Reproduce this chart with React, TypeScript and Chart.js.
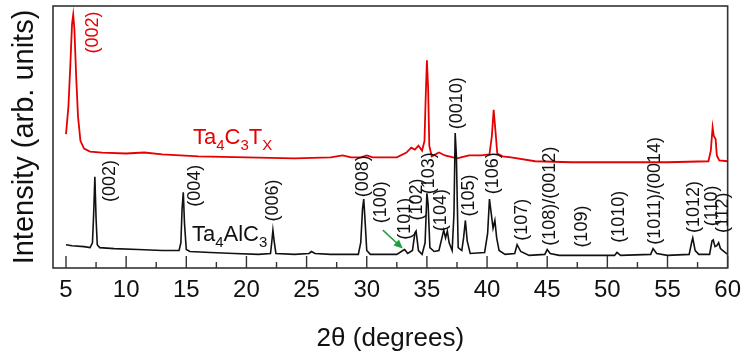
import React, { useEffect, useRef } from 'react';
import { Chart, registerables } from 'chart.js';

Chart.register(...registerables);

// ---- axis ticks ----
const xTickValues = [5, 10, 15, 20, 25, 30, 35, 40, 45, 50, 55, 60];
const xMinorTickValues = [7.5, 12.5, 17.5, 22.5, 27.5, 32.5, 37.5, 42.5, 47.5, 52.5, 57.5];

// ---- Ta4AlC3 (black) ----
const alcTheta = [
  5.0, 5.5, 6.5, 7.0, 7.2, 7.3, 7.4, 7.5, 7.6, 7.8, 9, 11, 13, 14.4, 14.55, 14.65, 14.75, 14.85, 15.0, 15.3,
  17, 19, 21, 22.0, 22.1, 22.2, 22.3, 22.45, 24, 25.2, 25.4, 25.7, 27, 29.3, 29.5, 29.65, 29.75, 29.85, 30.0, 30.3,
  32.5, 33.0, 33.15, 33.4, 33.8, 34.0, 34.1, 34.3, 34.6, 34.85, 35.0, 35.1, 35.25, 35.6, 36.0, 36.25, 36.4, 36.55, 36.7, 36.85,
  37.1, 37.25, 37.35, 37.45, 37.6, 37.9, 38.05, 38.2, 38.35, 38.6, 39.8, 40.05, 40.2, 40.35, 40.5, 40.65, 40.8, 41.0, 41.5, 42.3,
  42.5, 42.8, 43.5, 44.8, 45.0, 45.25, 46, 48, 50.6, 50.8, 51.1, 53.6, 53.8, 54.1, 55, 56.8, 57.0, 57.1, 57.3, 57.6,
  58.5, 58.7, 58.8, 58.95, 59.1, 59.25, 59.4, 59.6, 60,
];
const alcIntensity = [
  24, 23, 22, 21, 26, 56, 94, 51, 24, 21, 20, 19, 18, 18, 26, 61, 78, 46, 19, 17,
  16, 15, 14, 15, 26, 39, 28, 15, 14, 15, 17, 15, 14, 14, 26, 61, 71, 51, 18, 14,
  14, 18, 19, 15, 18, 36, 38, 18, 14, 26, 77, 66, 21, 17, 18, 31, 39, 31, 38, 26,
  18, 56, 139, 116, 21, 18, 31, 49, 28, 15, 16, 36, 71, 56, 41, 49, 31, 18, 14, 15,
  24, 17, 13, 14, 19, 15, 13, 13, 13, 16, 13, 14, 20, 15, 13, 14, 26, 31, 18, 14,
  14, 28, 29, 22, 23, 26, 20, 18, 14,
];

// ---- Ta4C3Tx (red) ----
const mxTheta = [
  5.0, 5.2, 5.35, 5.5, 5.6, 5.7, 5.85, 6.0, 6.2, 6.5, 7.0, 8, 10, 11.5, 13, 16, 20, 24, 27, 28,
  28.7, 29.5, 30.0, 30.5, 32.5, 33.3, 33.7, 34.0, 34.3, 34.6, 34.8, 34.9, 35.0, 35.1, 35.2, 35.4, 36.0, 36.5, 37.5, 38.5,
  39.5, 40.2, 40.4, 40.55, 40.7, 40.85, 41.3, 42.0, 44, 47, 52, 55, 58.4, 58.6, 58.75, 58.85, 59.0, 59.1, 59.3, 60,
];
const mxIntensity = [
  138, 166, 206, 251, 261, 246, 196, 156, 131, 123, 120, 119, 118, 119, 117, 115, 114, 113, 114, 116,
  114, 114, 116, 114, 114, 119, 124, 122, 126, 121, 131, 176, 214, 186, 126, 115, 119, 116, 113, 116,
  116, 117, 136, 163, 141, 118, 115, 114, 110, 109, 109, 109, 110, 121, 145, 136, 133, 116, 111, 110,
];

// ---- peak annotations ----
const alcPeakLabels = [
  '(002)', '(004)', '(006)', '(008)', '(100)', '(101)', '(102)', '(103)', '(104)', '(0010)', '(105)', '(106)',
  '(107)', '(108)/(0012)', '(109)', '(1010)', '(1011)/(0014)', '(1012)', '(110)', '(112)',
];
const alcPeakTheta = [
  8.65, 15.7, 22.25, 29.7, 31.2, 33.2, 34.2, 35.2, 36.2, 37.5, 38.5, 40.5,
  42.9, 45.2, 47.9, 51.0, 54.0, 57.2, 58.7, 59.6,
];
const alcPeakStart = [
  68, 63, 48, 73, 46, 29, 49, 76, 38, 143, 53, 76,
  28, 23, 21, 26, 24, 36, 43, 36,
];
const mxPeakLabels = ['(002)'];
const mxPeakTheta = [7.24];
const mxPeakStart = [221];

// sample names: [text, subscript?]
const alcName: [string, boolean][] = [['Ta', false], ['4', true], ['Al', false], ['C', false], ['3', true]];
const mxName: [string, boolean][] = [['Ta', false], ['4', true], ['C', false], ['3', true], ['T', false], ['X', true]];
const alcNamePos = [15.47, 28];
const mxNamePos = [15.55, 128];

// arrow pointing to (101)
const arrowFrom = [31.34, 39];
const arrowTo = [33.0, 20];

const FONT = '"Liberation Sans", Arial, Helvetica, sans-serif';
const RED = '#e60000';
const BLACK = '#111111';

function drawRich(ctx: CanvasRenderingContext2D, parts: [string, boolean][], x0: number, y0: number, color: string) {
  let x = x0;
  ctx.fillStyle = color;
  ctx.textAlign = 'left';
  ctx.textBaseline = 'alphabetic';
  for (const [t, sub] of parts) {
    ctx.font = sub ? `15px ${FONT}` : `22px ${FONT}`;
    ctx.fillText(t, x, sub ? y0 + 6 : y0);
    x += ctx.measureText(t).width;
  }
}

const decorPlugin = {
  id: 'decor',
  afterDatasetsDraw(chart: any) {
    const { ctx, chartArea, scales } = chart;
    const x = scales.x;
    const y = scales.y;
    ctx.save();
    // frame
    ctx.strokeStyle = '#333';
    ctx.lineWidth = 1.6;
    ctx.strokeRect(chartArea.left, chartArea.top, chartArea.right - chartArea.left, chartArea.bottom - chartArea.top);
    // inward tick marks
    ctx.beginPath();
    ctx.lineWidth = 1.4;
    xTickValues.forEach((v) => {
      const px = x.getPixelForValue(v);
      ctx.moveTo(px, chartArea.bottom);
      ctx.lineTo(px, chartArea.bottom - 12);
    });
    xMinorTickValues.forEach((v) => {
      const px = x.getPixelForValue(v);
      ctx.moveTo(px, chartArea.bottom);
      ctx.lineTo(px, chartArea.bottom - 6);
    });
    ctx.stroke();

    // peak labels
    const drawLabels = (labels: string[], th: number[], st: number[], color: string) => {
      ctx.font = `18px ${FONT}`;
      ctx.fillStyle = color;
      ctx.textAlign = 'left';
      ctx.textBaseline = 'middle';
      labels.forEach((t, i) => {
        const px = x.getPixelForValue(th[i]);
        const py = y.getPixelForValue(st[i]);
        ctx.save();
        ctx.translate(px, py);
        ctx.rotate(-Math.PI / 2);
        ctx.fillText(t, 0, 0);
        ctx.restore();
      });
    };
    drawLabels(alcPeakLabels, alcPeakTheta, alcPeakStart, BLACK);
    drawLabels(mxPeakLabels, mxPeakTheta, mxPeakStart, RED);

    // sample names
    drawRich(ctx, alcName, x.getPixelForValue(alcNamePos[0]), y.getPixelForValue(alcNamePos[1]), BLACK);
    drawRich(ctx, mxName, x.getPixelForValue(mxNamePos[0]), y.getPixelForValue(mxNamePos[1]), RED);

    // green arrow
    const ax0 = x.getPixelForValue(arrowFrom[0]);
    const ay0 = y.getPixelForValue(arrowFrom[1]);
    const ax1 = x.getPixelForValue(arrowTo[0]);
    const ay1 = y.getPixelForValue(arrowTo[1]);
    const ang = Math.atan2(ay1 - ay0, ax1 - ax0);
    ctx.strokeStyle = '#1e9e3c';
    ctx.fillStyle = '#1e9e3c';
    ctx.lineWidth = 1.5;
    ctx.beginPath();
    ctx.moveTo(ax0, ay0);
    ctx.lineTo(ax1 - 6 * Math.cos(ang), ay1 - 6 * Math.sin(ang));
    ctx.stroke();
    ctx.beginPath();
    ctx.moveTo(ax1, ay1);
    ctx.lineTo(ax1 - 9 * Math.cos(ang) + 4 * Math.sin(ang), ay1 - 9 * Math.sin(ang) - 4 * Math.cos(ang));
    ctx.lineTo(ax1 - 9 * Math.cos(ang) - 4 * Math.sin(ang), ay1 - 9 * Math.sin(ang) + 4 * Math.cos(ang));
    ctx.closePath();
    ctx.fill();
    ctx.restore();
  },
};

export default function App() {
  const canvasRef = useRef<HTMLCanvasElement | null>(null);

  useEffect(() => {
    document.body.style.margin = '0';
    const canvas = canvasRef.current;
    if (!canvas) return;
    const chart = new Chart(canvas, {
      type: 'line',
      data: {
        datasets: [
          {
            label: 'Ta4AlC3',
            data: alcTheta.map((t, i) => ({ x: t, y: alcIntensity[i] })),
            borderColor: BLACK,
            borderWidth: 1.6,
            pointRadius: 0,
            tension: 0,
            fill: false,
          },
          {
            label: 'Ta4C3Tx',
            data: mxTheta.map((t, i) => ({ x: t, y: mxIntensity[i] })),
            borderColor: RED,
            borderWidth: 1.8,
            pointRadius: 0,
            tension: 0,
            fill: false,
          },
        ],
      },
      options: {
        animation: false,
        responsive: false,
        maintainAspectRatio: false,
        layout: { padding: { left: 8, right: 21, top: 6, bottom: 0 } },
        plugins: { legend: { display: false }, tooltip: { enabled: false } },
        scales: {
          x: {
            type: 'linear',
            min: 3.92,
            max: 60,
            afterBuildTicks: (scale: any) => {
              scale.ticks = xTickValues.map((value) => ({ value }));
            },
            grid: { display: false, drawTicks: false },
            border: { display: false },
            ticks: {
              color: BLACK,
              padding: 8,
              maxRotation: 0,
              autoSkip: false,
              font: { family: FONT, size: 24 },
            },
            title: {
              display: true,
              text: '2θ (degrees)',
              color: BLACK,
              font: { family: FONT, size: 26 },
              padding: { top: 10, bottom: 6 },
            },
          },
          y: {
            type: 'linear',
            min: 0,
            max: 270,
            grid: { display: false, drawTicks: false },
            border: { display: false },
            ticks: { display: false },
            title: {
              display: true,
              text: 'Intensity (arb. units)',
              color: BLACK,
              font: { family: FONT, size: 29 },
              padding: { top: 0, bottom: 10.2 },
            },
          },
        },
      },
      plugins: [decorPlugin],
    });
    return () => chart.destroy();
  }, []);

  return (
    <div style={{ width: 749, height: 360 }}>
      <canvas ref={canvasRef} width={749} height={360} />
    </div>
  );
}
